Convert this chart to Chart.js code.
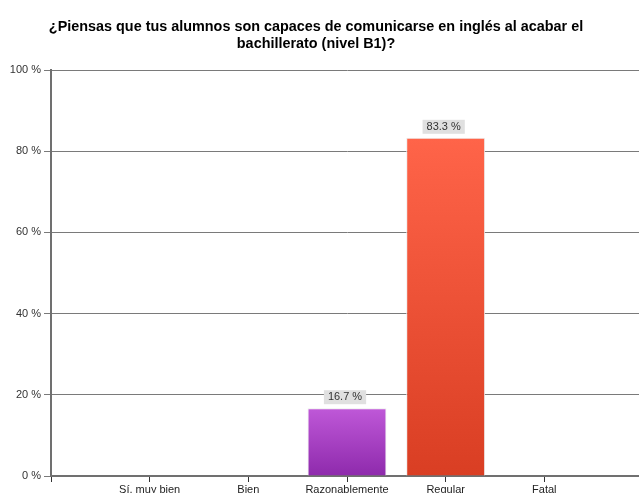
<!DOCTYPE html>
<html><head><meta charset="utf-8">
<script src="https://cdn.jsdelivr.net/npm/chart.js@4/dist/chart.umd.min.js"></script>
<style>
html,body{margin:0;padding:0;background:#fff;overflow:hidden;}
#wrap{width:639px;height:493px;overflow:hidden;position:relative;}
#c{position:absolute;left:0;top:0;}
</style></head>
<body><div id="wrap"><canvas id="c" width="644" height="500"></canvas></div>
<script>
const titleLines = ["¿Piensas que tus alumnos son capaces de comunicarse en inglés al acabar el", "bachillerato (nivel B1)?"];
const categories = ["Sí, muy bien", "Bien", "Razonablemente", "Regular", "Fatal"];
const values = [0, 0, 16.7, 83.3, 0];
const yTicks = [0, 20, 40, 60, 80, 100];
const gradTop = ["#bf58d8", "#bf58d8", "#bf58d8", "#ff6449", "#ff6449"];
const gradBottom = ["#8e2aac", "#8e2aac", "#8e2aac", "#d93e23", "#d93e23"];

const labels = [""].concat(categories, [""]);
const data = [null].concat(values, [null]);
const FONT = "'Liberation Sans', Arial, sans-serif";

const titlePlugin = {
  id: 'customTitle',
  afterDraw(chart) {
    const ctx = chart.ctx;
    ctx.save();
    ctx.font = "bold 14.4px " + FONT;
    ctx.fillStyle = "#000";
    ctx.textAlign = "center";
    ctx.textBaseline = "middle";
    ctx.fillText(titleLines[0], 316, 27);
    ctx.fillText(titleLines[1], 316, 44);
    ctx.restore();
  }
};
const labelPlugin = {
  id: 'valLabels',
  afterDatasetsDraw(chart) {
    const ctx = chart.ctx;
    const meta = chart.getDatasetMeta(0);
    ctx.save();
    ctx.font = "11px " + FONT;
    ctx.textAlign = "center";
    ctx.textBaseline = "middle";
    meta.data.forEach((el, i) => {
      const v = data[i];
      if (!v) return;
      const txt = v.toFixed(1) + " %";
      const w = ctx.measureText(txt).width + 8;
      const h = 14;
      const cx = el.x - 2;
      const by = el.y - 4;
      ctx.fillStyle = "#e0e0e0";
      ctx.fillRect(cx - w / 2, by - h, w, h);
      ctx.fillStyle = "#333";
      ctx.fillText(txt, cx, by - h / 2);
    });
    ctx.restore();
  }
};

new Chart(document.getElementById('c'), {
  type: 'bar',
  data: {
    labels: labels,
    datasets: [{
      data: data,
      backgroundColor: (c) => {
        const i = c.dataIndex - 1;
        const area = c.chart.chartArea;
        if (!area || i < 0 || i >= categories.length) return "#fff";
        const g = c.chart.ctx.createLinearGradient(0, area.top, 0, area.bottom);
        const v = values[i];
        const topFrac = 1 - v / 100;
        g.addColorStop(0, gradTop[i]);
        g.addColorStop(Math.max(0, Math.min(1, topFrac)), gradTop[i]);
        g.addColorStop(1, gradBottom[i]);
        return g;
      },
      borderColor: "#ececec",
      borderWidth: (c) => (c.raw ? 1 : 0),
      borderSkipped: 'bottom',
      barPercentage: 0.8,
      categoryPercentage: 1.0
    }]
  },
  options: {
    responsive: false,
    animation: false,
    events: [],
    layout: { padding: { top: 70, left: 0, right: 1, bottom: 0 } },
    plugins: { legend: { display: false }, tooltip: { enabled: false }, title: { display: false } },
    scales: {
      x: {
        offset: false,
        grid: { display: true, offset: false, drawOnChartArea: false, drawTicks: true, tickLength: 6, color: "#333", lineWidth: 1 },
        border: { display: true, color: "#707070", width: 2 },
        ticks: { color: "#222", font: { family: FONT, size: 11 }, padding: 1, maxRotation: 0, autoSkip: false },
        afterFit: (s) => { s.height = 24; }
      },
      y: {
        min: 0, max: 100,
        afterBuildTicks: (s) => { s.ticks = yTicks.map(v => ({ value: v })); },
        grid: { color: "#7a7a7a", lineWidth: 1, tickLength: 7, drawTicks: true },
        border: { display: true, color: "#707070", width: 2 },
        ticks: { color: "#333", font: { family: FONT, size: 11 }, padding: 3, callback: (v) => v + " %" },
        afterFit: (s) => { s.width = 51; }
      }
    }
  },
  plugins: [titlePlugin, labelPlugin]
});
</script></body></html>
